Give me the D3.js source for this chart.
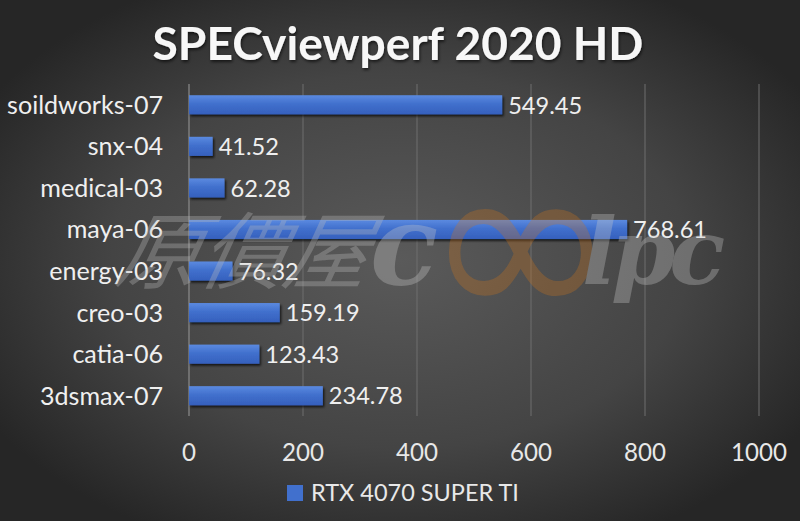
<!DOCTYPE html>
<html><head><meta charset="utf-8">
<script src="https://cdn.jsdelivr.net/npm/d3@7"></script>
<style>html,body{margin:0;padding:0;background:#2a2a2a;}svg{display:block;}</style>
</head><body>
<svg id="chart" width="800" height="521"></svg>
<script>
const categories = ["soildworks-07","snx-04","medical-03","maya-06","energy-03","creo-03","catia-06","3dsmax-07"];
const values = [549.45, 41.52, 62.28, 768.61, 76.32, 159.19, 123.43, 234.78];
const ticks = [0, 200, 400, 600, 800, 1000];
const seriesName = "RTX 4070 SUPER TI";
const title = "SPECviewperf 2020 HD";

const W = 800, H = 521;
const svg = d3.select("#chart");
const defs = svg.append("defs");

const bg = defs.append("radialGradient").attr("id","bg").attr("cx","50%").attr("cy","50%").attr("r","60%");
bg.append("stop").attr("offset","0%").attr("stop-color","#5a5a5a");
bg.append("stop").attr("offset","60%").attr("stop-color","#444444");
bg.append("stop").attr("offset","100%").attr("stop-color","#262626");
svg.append("rect").attr("width",W).attr("height",H).attr("fill","url(#bg)");

const bar = defs.append("linearGradient").attr("id","bar").attr("x1",0).attr("y1",0).attr("x2",0).attr("y2",1);
bar.append("stop").attr("offset","0%").attr("stop-color","#5b8ae0");
bar.append("stop").attr("offset","45%").attr("stop-color","#4170cd");
bar.append("stop").attr("offset","100%").attr("stop-color","#3560bd");

const sh = defs.append("filter").attr("id","shadow").attr("x","-5%").attr("y","-30%").attr("width","115%").attr("height","180%");
sh.append("feDropShadow").attr("dx",1.5).attr("dy",2).attr("stdDeviation",1.2).attr("flood-color","#000").attr("flood-opacity",0.7);

const tsh = defs.append("filter").attr("id","tshadow");
tsh.append("feDropShadow").attr("dx",1).attr("dy",2).attr("stdDeviation",1.5).attr("flood-color","#000").attr("flood-opacity",0.6);

const x = d3.scaleLinear().domain([0,1000]).range([189,759]);
const y = d3.scaleBand().domain(categories).range([84,416.5]).paddingInner(0.54).paddingOuter(0.27);

const FONT = "Lato, 'Open Sans', sans-serif";
function fit(sel, target) {
  const w = sel.node().getComputedTextLength();
  const fs = parseFloat(sel.attr("font-size"));
  return fs * target / w;
}

// gridlines
svg.append("g").selectAll("line").data(ticks.slice(1)).join("line")
  .attr("x1",d=>x(d)).attr("x2",d=>x(d)).attr("y1",84).attr("y2",416)
  .attr("stroke","#6e6e6e").attr("stroke-width",1);
// axis line
svg.append("line").attr("x1",x(0)).attr("x2",x(0)).attr("y1",84).attr("y2",416)
  .attr("stroke","#8c8c8c").attr("stroke-width",1.2);

// bars
svg.append("g").selectAll("rect").data(values).join("rect")
  .attr("x",x(0)).attr("y",(d,i)=>y(categories[i]))
  .attr("width",d=>x(d)-x(0)).attr("height",y.bandwidth())
  .attr("fill","url(#bar)").attr("filter","url(#shadow)");

// measure font size for labels
const probe = svg.append("text").attr("font-family",FONT).attr("font-size",20).text("soildworks-07");
const catFS = fit(probe, 156);
probe.text("549.45");
const valFS = fit(probe, 74);
probe.text("200");
const tickFS = fit(probe, 42);
probe.text(seriesName);
const legFS = fit(probe, 208);
probe.remove();

// category labels
svg.append("g").selectAll("text").data(categories).join("text")
  .attr("x",163).attr("y",d=>y(d)+y.bandwidth()/2).attr("dy","0.36em")
  .attr("text-anchor","end").attr("font-family",FONT).attr("font-size",catFS)
  .attr("fill","#efefef").text(d=>d);

// value labels
svg.append("g").selectAll("text").data(values).join("text")
  .attr("x",d=>x(d)+6).attr("y",(d,i)=>y(categories[i])+y.bandwidth()/2).attr("dy","0.37em")
  .attr("font-family",FONT).attr("font-size",valFS)
  .attr("fill","#efefef").text(d=>d.toFixed(2));

// tick labels
svg.append("g").selectAll("text").data(ticks).join("text")
  .attr("x",d=>x(d)).attr("y",452).attr("dy","0.36em").attr("text-anchor","middle")
  .attr("font-family",FONT).attr("font-size",tickFS).attr("fill","#e8e8e8").text(d=>d);

// legend
svg.append("rect").attr("x",287).attr("y",485).attr("width",16).attr("height",16).attr("fill","#4170cd");
svg.append("text").attr("x",311).attr("y",493).attr("dy","0.36em")
  .attr("font-family",FONT).attr("font-size",legFS).attr("fill","#e8e8e8").text(seriesName);

// title
const t = svg.append("text").attr("x",398).attr("y",43).attr("dy","0.36em").attr("text-anchor","middle")
  .attr("font-family",FONT).attr("font-weight","bold").attr("font-size",36).attr("fill","#f7f7f7")
  .attr("filter","url(#tshadow)").text(title);
t.attr("font-size", fit(t, 491));

// watermark
const wm = svg.append("g").attr("opacity",0.33);
wm.append("text").attr("x",112).attr("y",282).attr("font-family","'Noto Sans CJK TC', sans-serif")
  .attr("font-size",84).attr("font-style","italic").attr("fill","#bdbdbd")
  .attr("transform","skewX(-12) translate(60,0)").text("原價屋");
wm.append("text").attr("x",370).attr("y",284).attr("font-family","'DejaVu Serif', serif")
  .attr("font-style","italic").attr("font-weight","bold").attr("font-size",112).attr("fill","#c8c8c8").text("c");
wm.append("text").attr("x",0).attr("y",0).attr("font-family","'DejaVu Sans', sans-serif")
  .attr("font-size",160).attr("fill","#d0761c").attr("opacity",0.9)
  .attr("transform","translate(424,322) scale(1.45,1.45)").text("∞");
wm.append("text").attr("x",582).attr("y",284).attr("font-family","'DejaVu Serif', serif")
  .attr("font-style","italic").attr("font-weight","bold").attr("font-size",92).attr("fill","#c8c8c8")
  .attr("letter-spacing",-6).text("lpc");
</script>
</body></html>
